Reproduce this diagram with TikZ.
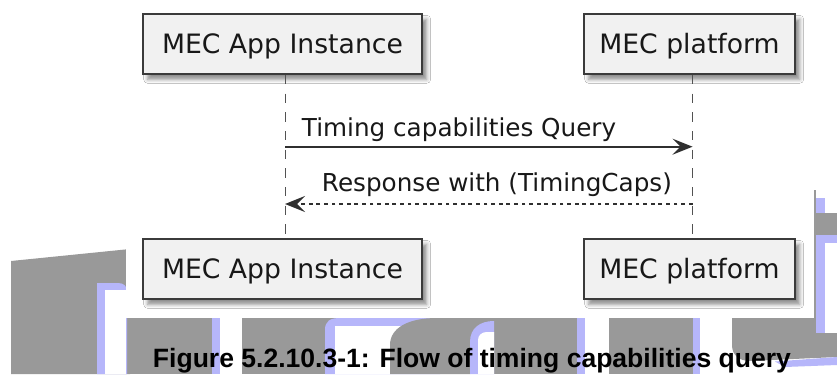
\documentclass[tikz,border=0pt]{standalone}
\usepackage{fontspec}
\setmainfont{DejaVu Sans}
\newfontfamily\capfont{Liberation Sans}
\usetikzlibrary{arrows.meta,shadows.blur}
\definecolor{wmgray}{RGB}{153,153,153}
\definecolor{wmblue}{RGB}{182,182,250}
\definecolor{boxfill}{RGB}{241,241,241}
\definecolor{ink}{RGB}{24,24,24}
\tikzset{
  participant/.style={draw=ink!85, line width=1.5pt, fill=boxfill, inner sep=0pt,
    minimum height=45pt, text height=14.6pt, text depth=0pt, text=ink,
    font=\fontsize{20pt}{24pt}\selectfont,
    blur shadow={shadow xshift=3.5pt, shadow yshift=-4pt, shadow blur radius=3pt, shadow opacity=45}},
  lifeline/.style={draw=ink!75, line width=0.8pt, dash pattern=on 7pt off 7pt},
  msg/.style={draw=ink!90, line width=1.2pt, -{Stealth[length=15pt, width=12pt, inset=6pt]}},
  reply/.style={msg, dash pattern=on 2.85pt off 2.85pt},
  msglabel/.style={anchor=base west, inner sep=0pt, text=ink, font=\fontsize{18.5pt}{22pt}\selectfont},
  caption/.style={anchor=base west, inner sep=0pt, font=\capfont\bfseries\fontsize{19.9pt}{24pt}\selectfont}
}
\begin{document}
\begin{tikzpicture}[x=0.75pt,y=-0.75pt]
\useasboundingbox (0,0) rectangle (837,374);
\fill[white] (0,0) rectangle (837,374);
% ---- watermark behind the figure ----
\fill[wmgray] (11,261) -- (130,249) -- (130,374) -- (11,374) -- cycle;
\fill[wmgray] (126,310) rectangle (732,374);
\fill[wmblue] (97,374) -- (97,283) -- (118,283) .. controls (124,283) and (127,286) .. (127,292) -- (127,374) -- cycle;
\fill[white] (105,290) rectangle (126,374);
\fill[wmblue] (212,310) rectangle (220,374);
\fill[white] (220,310) rectangle (242,374);
\fill[wmblue] (325,374) -- (325,330) .. controls (325,321) and (330,318) .. (340,318) -- (440,318) -- (440,374) -- cycle;
\fill[white] (335,326) rectangle (440,374);
\fill[wmgray] (390,374) -- (390,345) .. controls (390,328) and (408,318) .. (437,318) -- (470,318) -- (470,374) -- cycle;
\fill[wmblue] (470,374) -- (470,342) .. controls (470,328) and (480,321) .. (494,321) -- (494,374) -- cycle;
\fill[white] (478,374) -- (478,340) .. controls (478,335) and (482,332) .. (487,332) -- (494,332) -- (494,374) -- cycle;
\fill[wmblue] (577,310) rectangle (585,374);
\fill[white] (585,310) rectangle (609,374);
\fill[wmblue] (693,310) rectangle (700,374);
\fill[white] (700,310) rectangle (732,374);
\fill[wmgray] (732,310) -- (837,310) -- (837,357) -- (750,361) .. controls (739,361) and (732,355) .. (732,345) -- cycle;
\fill[wmblue] (775,361.5) -- (837,357) -- (837,365) -- (785,367) -- cycle;
\fill[wmgray] (811,190) rectangle (816,318);
\fill[wmblue] (816,198) rectangle (825,213);
\fill[wmgray] (816,213) rectangle (837,235);
\fill[wmblue] (816,235) rectangle (837,243);
\fill[wmblue] (816,235) rectangle (825,333);
\fill[white] (825,243) rectangle (837,333);
% white canvas of the sequence diagram
\fill[white] (126,0) rectangle (814,318);
% ---- participants ----
\node[participant, minimum width=209.25pt] (a1) at (282.5,44) {MEC App Instance};
\node[participant, minimum width=158.25pt] (p1) at (689.5,44) {MEC platform};
\node[participant, minimum width=209.25pt] (a2) at (282.5,269) {MEC App Instance};
\node[participant, minimum width=158.25pt] (p2) at (689.5,269) {MEC platform};
% ---- lifelines ----
\draw[lifeline] ([xshift=1.9pt]a1.south) -- ([xshift=1.9pt]a2.north);
\draw[lifeline] ([xshift=2.2pt]p1.south) -- ([xshift=2.2pt]p2.north);
% ---- messages ----
\coordinate (q1) at (285,146.7);
\coordinate (q2) at (692.5,146.7);
\coordinate (r1) at (692.5,204);
\coordinate (r2) at (285,204);
\draw[msg] (q1) -- (q2);
\draw[reply] (r1) -- (r2);
\node[msglabel] (t1) at (301.7,136.7) {Timing capabilities Query};
\node[msglabel] (t2) at (321.7,191.7) {Response with (TimingCaps)};
% ---- caption ----
\node[caption] (cap) at (152.7,367.3) {Figure 5.2.10.3-1: Flow of timing capabilities query};
\end{tikzpicture}
\end{document}
